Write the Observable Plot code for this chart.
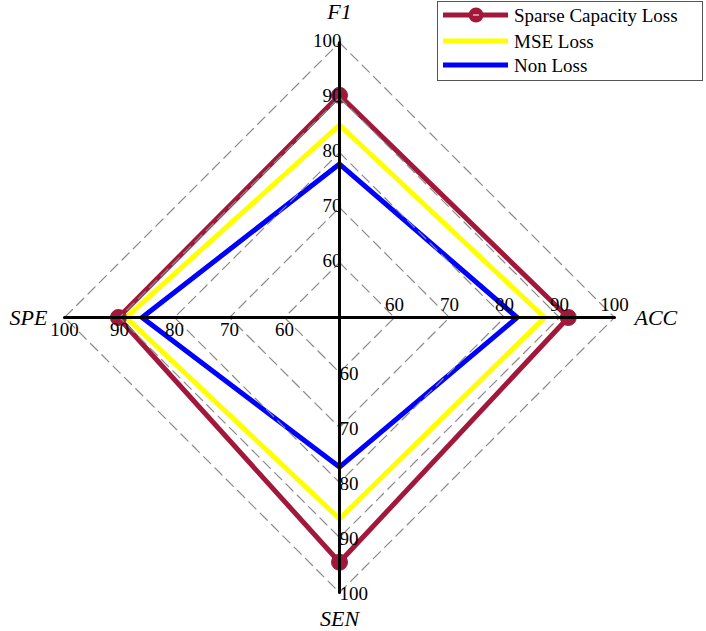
<!DOCTYPE html>
<html>
<head>
<meta charset="utf-8">
<script src="https://cdn.jsdelivr.net/npm/d3@7"></script>
<script src="https://cdn.jsdelivr.net/npm/@observablehq/plot@0.6"></script>
<style>
  body { margin: 0; background: #fff; }
  #wrap { position: relative; width: 706px; height: 631px; }
  #legend { position: absolute; left: 437px; top: 1px; width: 266px; height: 80px; border: 1px solid #555; background: #fff; box-sizing: border-box; }
</style>
</head>
<body>
<div id="wrap"><div id="chart"></div><div id="legend"></div></div>
<script>
// ---- data ----
const axesNames = ["F1", "ACC", "SEN", "SPE"];
const seriesNames = ["Sparse Capacity Loss", "MSE Loss", "Non Loss"];
const sparseCapacity = [90.4, 91.6, 94.5, 90.2];
const mseLoss = [85.0, 87.3, 86.6, 88.8];
const nonLoss = [77.9, 82.3, 77.2, 85.9];
const tickValues = [60, 70, 80, 90, 100];
const centerValue = 50;
const colors = ["#a2183a", "#ffff00", "#0000ff"];

// direction of each axis (up, right, down, left)
const dirs = [[0, 1], [1, 0], [0, -1], [-1, 0]];
const seriesValues = [sparseCapacity, mseLoss, nonLoss];

function toXY(v, i) {
  const r = v - centerValue;
  return { x: r * dirs[i][0], y: r * dirs[i][1] };
}

const seriesRows = [];
seriesValues.forEach((vals, s) => {
  [...vals, vals[0]].forEach((v, k) => {
    const i = k % vals.length;
    seriesRows.push({ series: seriesNames[s], ...toXY(v, i), order: k });
  });
});
const gridRows = [];
tickValues.forEach(t => {
  [0, 1, 2, 3, 0].forEach((i, k) => gridRows.push({ level: t, ...toXY(t, i), order: k }));
});
const axisRows = [];
axesNames.forEach((a, i) => {
  axisRows.push({ axis: a, ...toXY(centerValue, i) });
  axisRows.push({ axis: a, ...toXY(100, i) });
});
const tickRows = [];
axesNames.forEach((a, i) => tickValues.forEach(t => tickRows.push({ axis: a, i, t, ...toXY(t, i) })));
const titleRows = axesNames.map((a, i) => ({ axis: a, i, ...toXY(100, i) }));
const markerRows = sparseCapacity.map((v, i) => ({ ...toXY(v, i) }));

const ppu = 5.5, cx = 339, cy = 317, W = 706, H = 631;
const serif = "'Liberation Serif', 'DejaVu Serif', serif";

const tickStyle = [
  { textAnchor: "end", dx: 2, dy: -2 },
  { textAnchor: "middle", dx: 0, dy: -13 },
  { textAnchor: "start", dx: 0, dy: 1 },
  { textAnchor: "middle", dx: 0, dy: 12 }
];
const titleStyle = [
  { textAnchor: "middle", dx: 0, dy: -31 },
  { textAnchor: "start", dx: 20, dy: 0 },
  { textAnchor: "middle", dx: 0, dy: 26 },
  { textAnchor: "end", dx: -17, dy: 0 }
];

const chart = Plot.plot({
  width: W, height: H, margin: 0,
  x: { domain: [-cx / ppu, (W - cx) / ppu], axis: null },
  y: { domain: [-(H - cy) / ppu, cy / ppu], axis: null },
  marks: [
    Plot.line(seriesRows, { x: "x", y: "y", z: "series", stroke: d => colors[seriesNames.indexOf(d.series)], strokeWidth: 5, strokeLinejoin: "miter", strokeMiterlimit: 10 }),
    Plot.dot(markerRows, { x: "x", y: "y", r: 8, fill: colors[0], stroke: colors[0], strokeWidth: 1 }),
    Plot.line(gridRows, { x: "x", y: "y", z: "level", stroke: "#8a8a8a", strokeWidth: 1.2, strokeDasharray: "10,6" }),
    Plot.line(axisRows, { x: "x", y: "y", z: "axis", stroke: "#000", strokeWidth: 3 }),
    ...[0, 1, 2, 3].map(i => Plot.text(tickRows.filter(d => d.i === i), {
      x: "x", y: "y", text: d => String(d.t), fontSize: 19, fontFamily: serif, fill: "#000", ...tickStyle[i]
    })),
    ...[0, 1, 2, 3].map(i => Plot.text(titleRows.filter(d => d.i === i), {
      x: "x", y: "y", text: "axis", fontSize: 22, fontFamily: serif, fontStyle: "italic", fill: "#000", ...titleStyle[i]
    }))
  ]
});
document.getElementById("chart").appendChild(chart);

// ---- legend ----
const legend = document.getElementById("legend");
const rowY = [14, 40, 64];
let svg = `<svg width="266" height="80" xmlns="http://www.w3.org/2000/svg" style="position:absolute;left:-1px;top:-1px">`;
seriesNames.forEach((name, s) => {
  const y = rowY[s];
  svg += `<line x1="6" x2="71" y1="${y}" y2="${y}" stroke="${colors[s]}" stroke-width="5"/>`;
  if (s === 0) {
    svg += `<circle cx="39" cy="${y}" r="7.5" fill="${colors[0]}"/>`;
    svg += `<line x1="36" x2="42" y1="${y}" y2="${y}" stroke="#fff" stroke-width="1"/>`;
  }
  svg += `<text x="77" y="${y}" dy="0.35em" font-family="${serif.replace(/'/g, "")}" font-size="19" fill="#000">${name}</text>`;
});
svg += `</svg>`;
legend.innerHTML = svg;
</script>
</body>
</html>
